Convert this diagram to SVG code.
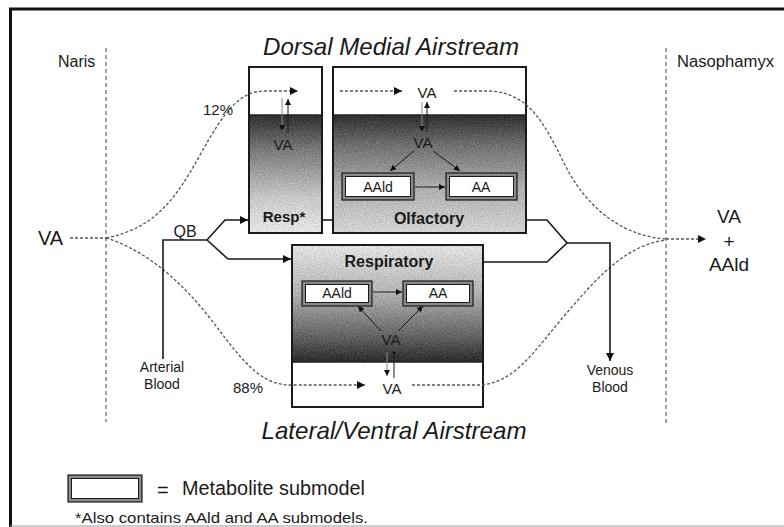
<svg xmlns="http://www.w3.org/2000/svg" width="784" height="527" viewBox="0 0 784 527">
<style>
text{font-family:"Liberation Sans",Arial,sans-serif;fill:#1a1a1a}
.it{font-style:italic;font-size:24px}
.lbl{font-size:15px}
.b{font-weight:bold}
.box{fill:none;stroke:#1a1a1a;stroke-width:2}
.sub-o{fill:#8a8a8a;stroke:#1a1a1a;stroke-width:1.2}
.sub-i{fill:#fff;stroke:#1a1a1a;stroke-width:1}
.air{fill:none;stroke:#555;stroke-width:1.3;stroke-dasharray:3 2}
.blood{fill:none;stroke:#1a1a1a;stroke-width:1.6}
.thin{fill:none;stroke:#1a1a1a;stroke-width:1}
.grey{fill:none;stroke:#888;stroke-width:1}
.guide{fill:none;stroke:#666;stroke-width:1.2;stroke-dasharray:4 3}
</style>
<defs>
<marker id="ah" viewBox="0 0 10 10" refX="10" refY="5" markerWidth="10" markerHeight="8" markerUnits="userSpaceOnUse" orient="auto"><path d="M0,0 L10,5 L0,10 z" fill="#111"/></marker>
<marker id="ahs" viewBox="0 0 10 10" refX="10" refY="5" markerWidth="7" markerHeight="6" markerUnits="userSpaceOnUse" orient="auto"><path d="M0,0 L10,5 L0,10 z" fill="#111"/></marker>
<linearGradient id="gDorsal" x1="0" y1="0" x2="0" y2="1">
<stop offset="0" stop-color="#2e2e2e"/><stop offset="0.25" stop-color="#6e6e6e"/><stop offset="0.6" stop-color="#acacac"/><stop offset="1" stop-color="#d4d4d4"/>
</linearGradient>
<linearGradient id="gResp" x1="0" y1="0" x2="0" y2="1">
<stop offset="0" stop-color="#2e2e2e"/><stop offset="0.3" stop-color="#7a7a7a"/><stop offset="0.7" stop-color="#c8c8c8"/><stop offset="1" stop-color="#e6e6e6"/>
</linearGradient>
<linearGradient id="gLat" x1="0" y1="0" x2="0" y2="1">
<stop offset="0" stop-color="#e2e2e2"/><stop offset="0.4" stop-color="#b4b4b4"/><stop offset="0.8" stop-color="#5e5e5e"/><stop offset="1" stop-color="#2a2a2a"/>
</linearGradient>
<filter id="grain" x="0" y="0" width="100%" height="100%" color-interpolation-filters="sRGB">
<feTurbulence type="fractalNoise" baseFrequency="0.9" numOctaves="2" seed="4" result="n"/>
<feColorMatrix in="n" type="matrix" values="1 0 0 0 0  1 0 0 0 0  1 0 0 0 0  0 0 0 0 1" result="g"/>
<feComposite in="SourceGraphic" in2="g" operator="arithmetic" k1="0" k2="1" k3="0.3" k4="-0.15" result="c"/>
<feComposite in="c" in2="SourceGraphic" operator="in"/>
</filter>
</defs>

<rect width="784" height="527" fill="#fff"/>
<g id="frame">
<path d="M10.5,527 V9 H784" fill="none" stroke="#111" stroke-width="3"/>
<line x1="10" y1="526" x2="784" y2="526" stroke="#999" stroke-width="1"/>
</g>

<g id="naris">
<line x1="106" y1="48" x2="106" y2="422" class="guide"/>
<text x="58" y="67" style="font-size:16px">Naris</text>
</g>
<g id="nasopharynx">
<line x1="666" y1="48" x2="666" y2="424" class="guide"/>
<text x="677" y="67" style="font-size:16px" textLength="97" lengthAdjust="spacingAndGlyphs">Nasophamyx</text>
</g>

<text x="391" y="55" class="it" text-anchor="middle" textLength="256" lengthAdjust="spacingAndGlyphs">Dorsal Medial Airstream</text>
<text x="394" y="439" class="it" text-anchor="middle" textLength="265" lengthAdjust="spacingAndGlyphs">Lateral/Ventral Airstream</text>

<g id="va-in"><text x="38" y="245" style="font-size:20px">VA</text></g>
<g id="va-out">
<text x="729" y="223" style="font-size:19px" text-anchor="middle">VA</text>
<text x="729" y="248" style="font-size:19px" text-anchor="middle">+</text>
<text x="729" y="271" style="font-size:19px" text-anchor="middle">AAld</text>
</g>

<g id="resp-star">
<rect x="249" y="115" width="73" height="118" fill="url(#gResp)" filter="url(#grain)"/>
<rect x="249" y="67" width="73" height="166" class="box"/>
<line x1="249" y1="115" x2="322" y2="115" stroke="#222" stroke-width="1.5"/>
<text x="283" y="150" class="lbl" text-anchor="middle">VA</text>
<text x="284" y="222" class="lbl b" text-anchor="middle">Resp*</text>
</g>

<g id="olfactory">
<rect x="333" y="115" width="193" height="118" fill="url(#gDorsal)" filter="url(#grain)"/>
<rect x="333" y="67" width="193" height="166" class="box"/>
<line x1="333" y1="115" x2="526" y2="115" stroke="#222" stroke-width="1.5"/>
<text x="427" y="98" class="lbl" text-anchor="middle">VA</text>
<text x="423" y="148" class="lbl" text-anchor="middle">VA</text>
<g id="olf-aald">
<rect x="342" y="173" width="72" height="27" class="sub-o"/>
<rect x="345.5" y="176.5" width="65" height="20" class="sub-i"/>
<text x="378" y="192" style="font-size:14px" text-anchor="middle">AAld</text>
</g>
<g id="olf-aa">
<rect x="446" y="173" width="71" height="27" class="sub-o"/>
<rect x="449.5" y="176.5" width="64" height="20" class="sub-i"/>
<text x="481" y="192" style="font-size:14px" text-anchor="middle">AA</text>
</g>
<text x="429" y="224" style="font-size:16px" class="b" text-anchor="middle">Olfactory</text>
</g>

<g id="respiratory">
<rect x="292" y="245" width="191" height="117" fill="url(#gLat)" filter="url(#grain)"/>
<rect x="292" y="245" width="191" height="162" class="box"/>
<line x1="292" y1="362" x2="483" y2="362" stroke="#222" stroke-width="1.5"/>
<text x="389" y="267" style="font-size:16px" class="b" text-anchor="middle">Respiratory</text>
<g id="resp-aald">
<rect x="302" y="281" width="70" height="25" class="sub-o"/>
<rect x="305.5" y="284.5" width="63" height="18" class="sub-i"/>
<text x="337" y="298" style="font-size:14px" text-anchor="middle">AAld</text>
</g>
<g id="resp-aa">
<rect x="403" y="281" width="70" height="25" class="sub-o"/>
<rect x="406.5" y="284.5" width="63" height="18" class="sub-i"/>
<text x="438" y="298" style="font-size:14px" text-anchor="middle">AA</text>
</g>
<text x="391" y="345" class="lbl" text-anchor="middle">VA</text>
<text x="392" y="394" class="lbl" text-anchor="middle">VA</text>
</g>

<g id="arterial-blood">
<text x="162" y="372" style="font-size:14px" text-anchor="middle">Arterial</text>
<text x="162" y="389" style="font-size:14px" text-anchor="middle">Blood</text>
</g>
<g id="venous-blood">
<text x="610" y="375" style="font-size:14px" text-anchor="middle">Venous</text>
<text x="610" y="392" style="font-size:14px" text-anchor="middle">Blood</text>
</g>

<g id="connectors">
<line x1="70" y1="238" x2="106" y2="238" class="air"/>
<path d="M106,238 C155,228 175,200 200,155 S240,91 265,91 L298,91" class="air" marker-end="url(#ah)"/>
<path d="M106,238 C140,248 175,275 205,312 S255,385 290,385 L365,385" class="air" marker-end="url(#ah)"/>
<path d="M340,91 L402,91" class="air" marker-end="url(#ah)"/>
<path d="M454,91 L490,91 C530,93 545,125 565,165 S620,236 666,239" class="air"/>
<path d="M412,385 L480,385 C515,383 535,350 565,315 S625,245 666,240" class="air"/>
<line x1="666" y1="239" x2="706" y2="239" class="air" marker-end="url(#ah)"/>
<line x1="282" y1="98" x2="282" y2="131" class="grey" marker-end="url(#ahs)"/>
<line x1="288" y1="133" x2="288" y2="99" class="thin" marker-end="url(#ahs)"/>
<line x1="422" y1="102" x2="422" y2="132" class="grey" marker-end="url(#ahs)"/>
<line x1="427" y1="132" x2="427" y2="102" class="thin" marker-end="url(#ahs)"/>
<line x1="387" y1="352" x2="387" y2="376" class="grey" marker-end="url(#ahs)"/>
<line x1="394" y1="378" x2="394" y2="355" class="thin"/>
<circle cx="394" cy="353" r="1.6" fill="#111"/>
<line x1="414" y1="151" x2="390" y2="171" class="thin" marker-end="url(#ahs)"/>
<line x1="433" y1="151" x2="460" y2="171" class="thin" marker-end="url(#ahs)"/>
<line x1="415" y1="187" x2="445" y2="187" class="thin" marker-end="url(#ahs)"/>
<line x1="381" y1="331" x2="358" y2="306" class="thin" marker-end="url(#ahs)"/>
<line x1="398" y1="331" x2="423" y2="306" class="thin" marker-end="url(#ahs)"/>
<line x1="373" y1="292" x2="402" y2="292" class="thin" marker-end="url(#ahs)"/>
<path d="M163,359 V240 H207 L225,220 H248" class="blood" marker-end="url(#ah)"/>
<path d="M207,240 L228,259 H291" class="blood" marker-end="url(#ah)"/>
<line x1="322" y1="220" x2="333" y2="220" class="blood"/>
<path d="M526,220 H547 L567,243 L547,262 H483" class="blood"/>
<path d="M567,243 H610 V361" class="blood" marker-end="url(#ah)"/>
<text x="185" y="237" style="font-size:16px" text-anchor="middle">QB</text>
<text x="203" y="115" class="lbl">12%</text>
<text x="233" y="393" class="lbl">88%</text>
</g>

<g id="legend">
<rect x="68" y="475" width="74" height="27" class="sub-o"/>
<rect x="71.5" y="478.5" width="67" height="20" class="sub-i"/>
<text x="157" y="497" style="font-size:20px">=</text>
<text x="182" y="495" style="font-size:20px" textLength="183" lengthAdjust="spacingAndGlyphs">Metabolite submodel</text>
<text x="75" y="523" style="font-size:15px" textLength="293" lengthAdjust="spacingAndGlyphs">*Also contains AAld and AA submodels.</text>
</g>
</svg>
